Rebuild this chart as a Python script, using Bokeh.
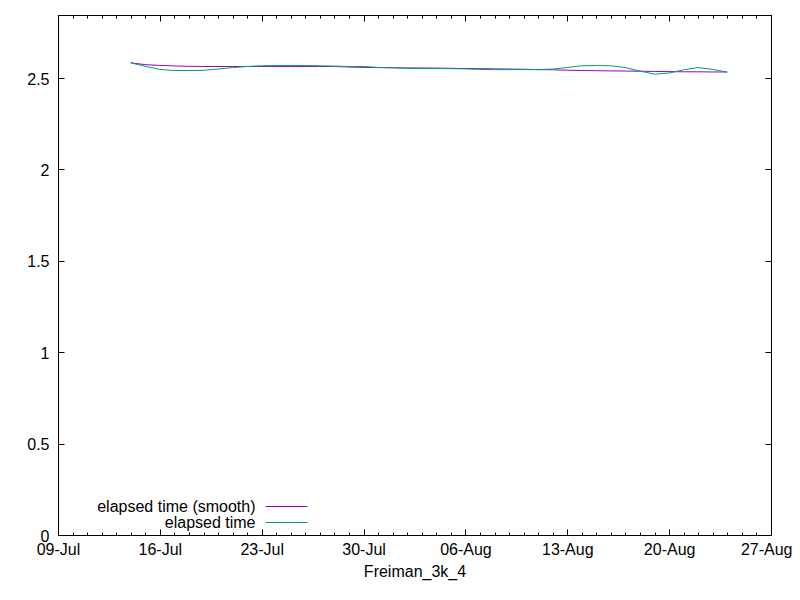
import pandas as pd
from bokeh.plotting import figure
from bokeh.models import (FixedTicker, DatetimeTickFormatter, Range1d, LinearAxis, DatetimeAxis,
                          CustomJSTickFormatter, Label, BoxAnnotation)
from bokeh.embed import file_html
from bokeh.resources import INLINE

# ---------------- data ----------------
dates = [
    "2019-07-13 23:00", "2019-07-14 23:00", "2019-07-15 23:00", "2019-07-16 23:00",
    "2019-07-17 23:00", "2019-07-18 23:00", "2019-07-19 23:00", "2019-07-20 23:00",
    "2019-07-21 23:00", "2019-07-22 23:00", "2019-07-23 23:00", "2019-07-24 23:00",
    "2019-07-25 23:00", "2019-07-26 23:00", "2019-07-27 23:00", "2019-07-28 23:00",
    "2019-07-29 23:00", "2019-07-30 23:00", "2019-07-31 23:00", "2019-08-01 23:00",
    "2019-08-02 23:00", "2019-08-03 23:00", "2019-08-04 23:00", "2019-08-05 23:00",
    "2019-08-06 23:00", "2019-08-07 23:00", "2019-08-08 23:00", "2019-08-09 23:00",
    "2019-08-10 23:00", "2019-08-11 23:00", "2019-08-12 23:00", "2019-08-13 23:00",
    "2019-08-14 23:00", "2019-08-15 23:00", "2019-08-16 23:00", "2019-08-17 23:00",
    "2019-08-18 23:00", "2019-08-19 23:00", "2019-08-20 23:00", "2019-08-21 23:00",
    "2019-08-22 23:00", "2019-08-23 23:00",
]
elapsed = [
    2.586, 2.567, 2.550, 2.544, 2.544, 2.545, 2.552, 2.560, 2.566, 2.570,
    2.571, 2.571, 2.571, 2.570, 2.568, 2.566, 2.566, 2.561, 2.559, 2.556,
    2.555, 2.555, 2.554, 2.553, 2.550, 2.549, 2.549, 2.549, 2.549, 2.552,
    2.560, 2.570, 2.571, 2.570, 2.560, 2.541, 2.524, 2.530, 2.548, 2.560,
    2.550, 2.535,
]
elapsed_smooth = [
    2.586, 2.576, 2.572, 2.569, 2.567, 2.566, 2.566, 2.566, 2.566, 2.566,
    2.566, 2.566, 2.566, 2.566, 2.566, 2.563, 2.561, 2.560, 2.559, 2.558,
    2.558, 2.557, 2.556, 2.555, 2.554, 2.553, 2.552, 2.551, 2.549, 2.548,
    2.546, 2.544, 2.543, 2.542, 2.541, 2.540, 2.539, 2.538, 2.537, 2.537,
    2.536, 2.536,
]
x_tick_dates = ["2019-07-09", "2019-07-16", "2019-07-23", "2019-07-30",
                "2019-08-06", "2019-08-13", "2019-08-20", "2019-08-27"]
y_ticks = [0, 0.5, 1, 1.5, 2, 2.5]
y_max = 2.845
x_title = "Freiman_3k_4"
legend_labels = ["elapsed time (smooth)", "elapsed time"]
colors = ["#9400D3", "#009E73"]

FONT = "Liberation Sans"

x = pd.to_datetime(dates)
tick_ms = [pd.Timestamp(d).value // 10**6 for d in x_tick_dates]
minor_ms = [t.value // 10**6 for t in pd.date_range(x_tick_dates[0], x_tick_dates[-1], freq="D")]

p = figure(frame_width=713, frame_height=520, x_axis_type="datetime",
           output_backend="svg", toolbar_location=None,
           x_range=Range1d(pd.Timestamp(x_tick_dates[0]), pd.Timestamp(x_tick_dates[-1])),
           y_range=Range1d(0, y_max),
           min_border_left=58, min_border_right=21, min_border_top=15, min_border_bottom=57)
p.xgrid.visible = False
p.ygrid.visible = False
p.outline_line_color = "black"
p.outline_line_width = 1
p.background_fill_color = "white"
p.border_fill_color = "white"

xticker = FixedTicker(ticks=tick_ms, minor_ticks=minor_ms)
yticker = FixedTicker(ticks=y_ticks, minor_ticks=[])

bottom_axis = p.xaxis[0]
left_axis = p.yaxis[0]

bottom_axis.ticker = xticker
bottom_axis.formatter = DatetimeTickFormatter(days="%d-%b", months="%d-%b", hours="%d-%b")
left_axis.ticker = yticker
left_axis.formatter = CustomJSTickFormatter(code="return tick.toString();")
bottom_axis.axis_label = x_title

top_axis = DatetimeAxis(ticker=xticker, formatter=CustomJSTickFormatter(code="return '';"))
right_axis = LinearAxis(ticker=yticker, formatter=CustomJSTickFormatter(code="return '';"))
p.add_layout(top_axis, "above")
p.add_layout(right_axis, "right")

for ax in [bottom_axis, left_axis, top_axis, right_axis]:
    ax.major_tick_in = 6
    ax.major_tick_out = 0
    ax.minor_tick_in = 3
    ax.minor_tick_out = 0
    ax.axis_line_color = "black"
    ax.major_tick_line_color = "black"
    ax.minor_tick_line_color = "black"
    ax.major_label_text_font = FONT
    ax.major_label_text_font_size = "16px"
    ax.major_label_text_color = "black"

bottom_axis.major_label_standoff = 5
left_axis.major_label_standoff = 9
bottom_axis.axis_label_text_font = FONT
bottom_axis.axis_label_text_font_size = "16px"
bottom_axis.axis_label_text_font_style = "normal"
bottom_axis.axis_label_text_color = "black"
bottom_axis.axis_label_standoff = 2
top_axis.major_label_text_font_size = "0px"
right_axis.major_label_text_font_size = "0px"
top_axis.major_label_standoff = 0
right_axis.major_label_standoff = 0

p.line(x, elapsed_smooth, line_color=colors[0], line_width=1)
p.line(x, elapsed, line_color=colors[1], line_width=1)

# legend (text right-aligned, sample line to the right), frame-relative screen units
for i, (lab, col) in enumerate(zip(legend_labels, colors)):
    yy = 29 - 16 * i
    p.add_layout(Label(x=197, y=yy, x_units="screen", y_units="screen", text=lab,
                       text_align="right", text_baseline="middle",
                       text_font=FONT, text_font_size="16px", text_color="black"))
    p.add_layout(BoxAnnotation(left=207, right=249, bottom=yy - 0.5, top=yy + 0.5,
                               left_units="screen", right_units="screen",
                               bottom_units="screen", top_units="screen",
                               fill_color=col, fill_alpha=1, line_alpha=0))

open("out.html", "w").write(file_html(p, INLINE))
